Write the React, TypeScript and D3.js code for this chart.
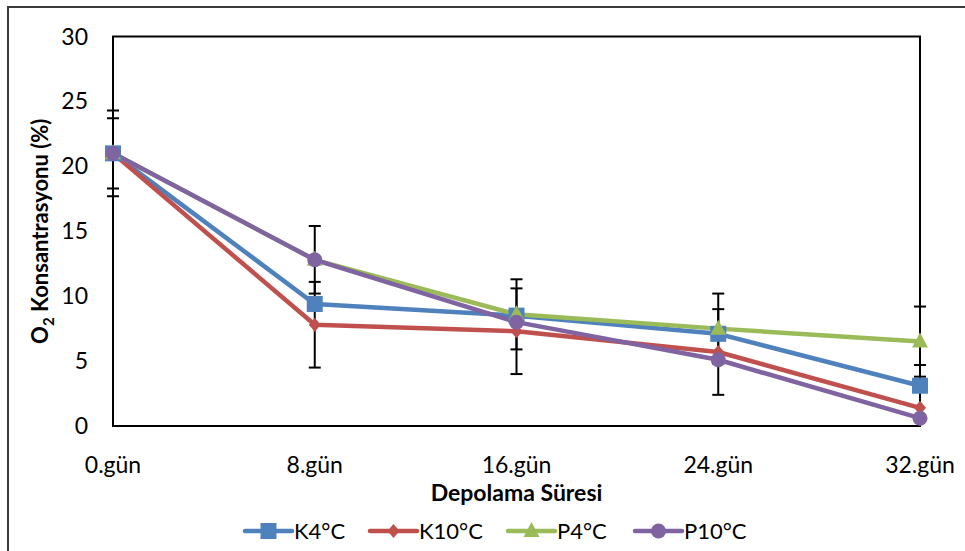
import React from 'react';
import * as d3 from 'd3';

const days = ['0.gün', '8.gün', '16.gün', '24.gün', '32.gün'];
const yTicks = [0, 5, 10, 15, 20, 25, 30];

const k4 = [21, 9.4, 8.5, 7.1, 3.1];
const k10 = [21, 7.8, 7.3, 5.7, 1.4];
const p4 = [21, 12.8, 8.6, 7.5, 6.5];
const p10 = [21, 12.8, 8.0, 5.1, 0.6];

// standard deviations, only two series carry error bars
const p4Err = [2.7, 2.6, 2.7, 2.7, 2.7];
const k10Err = [3.3, 3.3, 3.3, 3.3, 3.3];

const seriesNames = ['K4°C', 'K10°C', 'P4°C', 'P10°C'];

const font = 'Lato, "Open Sans", sans-serif';

const width = 965;
const height = 551;
const margin = { top: 36.5, right: 45, bottom: 125, left: 113 };

function Marker({ kind, x, y, color }: { kind: string; x: number; y: number; color: string }) {
  if (kind === 'square') return <rect x={x - 8} y={y - 8} width={16} height={16} fill={color} />;
  if (kind === 'diamond') return <path d={`M${x},${y - 7}L${x + 6},${y}L${x},${y + 7}L${x - 6},${y}Z`} fill={color} />;
  if (kind === 'triangle') return <path d={`M${x},${y - 9}L${x + 8},${y + 6}L${x - 8},${y + 6}Z`} fill={color} />;
  return <circle cx={x} cy={y} r={7.5} fill={color} />;
}

export default function App() {
  const x = d3.scalePoint<string>().domain(days).range([margin.left, width - margin.right]);
  const y = d3.scaleLinear().domain([0, 30]).range([height - margin.bottom, margin.top]);

  const series = [
    { name: seriesNames[0], values: k4, color: '#4F81BD', marker: 'square' },
    { name: seriesNames[1], values: k10, color: '#C0504D', marker: 'diamond' },
    { name: seriesNames[2], values: p4, color: '#9BBB59', marker: 'triangle' },
    { name: seriesNames[3], values: p10, color: '#8064A2', marker: 'circle' },
  ];
  const errs = [
    { values: p4, err: p4Err },
    { values: k10, err: k10Err },
  ];

  const line = d3.line<number>().x((_, i) => x(days[i])!).y((d) => y(d));
  const x0 = margin.left;
  const x1 = width - margin.right;
  const y0 = y(0);
  const y1 = y(30);
  const legendX = [245, 370, 508, 635];

  return (
    <svg width={width} height={height} style={{ position: 'absolute', left: 0, top: 0 }}>
      <rect x={0} y={0} width={width} height={height} fill="#fff" />
      <rect x={8} y={7} width={width + 10} height={height + 10} fill="none" stroke="#3a3a3a" strokeWidth={2} />
      <defs>
        <clipPath id="plot">
          <rect x={x0 - 20} y={y1} width={x1 - x0 + 40} height={y0 - y1} />
        </clipPath>
      </defs>
      <rect x={x0} y={y1} width={x1 - x0} height={y0 - y1} fill="none" stroke="#000" strokeWidth={2} />

      {yTicks.map((t) => (
        <text key={t} x={88} y={y(t)} dy="0.35em" textAnchor="end" fontFamily={font} fontSize={23}>
          {t}
        </text>
      ))}
      {days.map((d) => (
        <text key={d} x={x(d)} y={473} textAnchor="middle" fontFamily={font} fontSize={23}>
          {d}
        </text>
      ))}
      <text x={(x0 + x1) / 2} y={501} textAnchor="middle" fontFamily={font} fontSize={23} fontWeight="bold">
        Depolama Süresi
      </text>
      <text
        transform={`translate(48,${(y0 + y1) / 2}) rotate(-90)`}
        textAnchor="middle"
        fontFamily={font}
        fontSize={22}
        fontWeight="bold"
      >
        O<tspan fontSize={15} dy={6}>2</tspan>
        <tspan dy={-6}> Konsantrasyonu (%)</tspan>
      </text>

      <g clipPath="url(#plot)" stroke="#000" strokeWidth={2}>
        {errs.map((e, si) =>
          e.values.map((v, i) => {
            const cx = x(days[i])!;
            const hi = y(v + e.err[i]);
            const lo = y(v - e.err[i]);
            return (
              <g key={`${si}-${i}`}>
                <line x1={cx} x2={cx} y1={hi} y2={lo} />
                <line x1={cx - 6} x2={cx + 6} y1={hi} y2={hi} />
                <line x1={cx - 6} x2={cx + 6} y1={lo} y2={lo} />
              </g>
            );
          })
        )}
      </g>

      {series.map((s) => (
        <path key={s.name} d={line(s.values)!} fill="none" stroke={s.color} strokeWidth={4.5} strokeLinejoin="round" />
      ))}
      {series.map((s) =>
        s.values.map((v, i) => <Marker key={`${s.name}-${i}`} kind={s.marker} x={x(days[i])!} y={y(v)} color={s.color} />)
      )}

      {series.map((s, i) => (
        <g key={s.name}>
          <line x1={legendX[i]} x2={legendX[i] + 47} y1={531} y2={531} stroke={s.color} strokeWidth={4.5} strokeLinecap="round" />
          <Marker kind={s.marker} x={legendX[i] + 23.5} y={531} color={s.color} />
          <text x={legendX[i] + 49} y={531} dy="0.35em" fontFamily={font} fontSize={22}>
            {s.name}
          </text>
        </g>
      ))}
    </svg>
  );
}
